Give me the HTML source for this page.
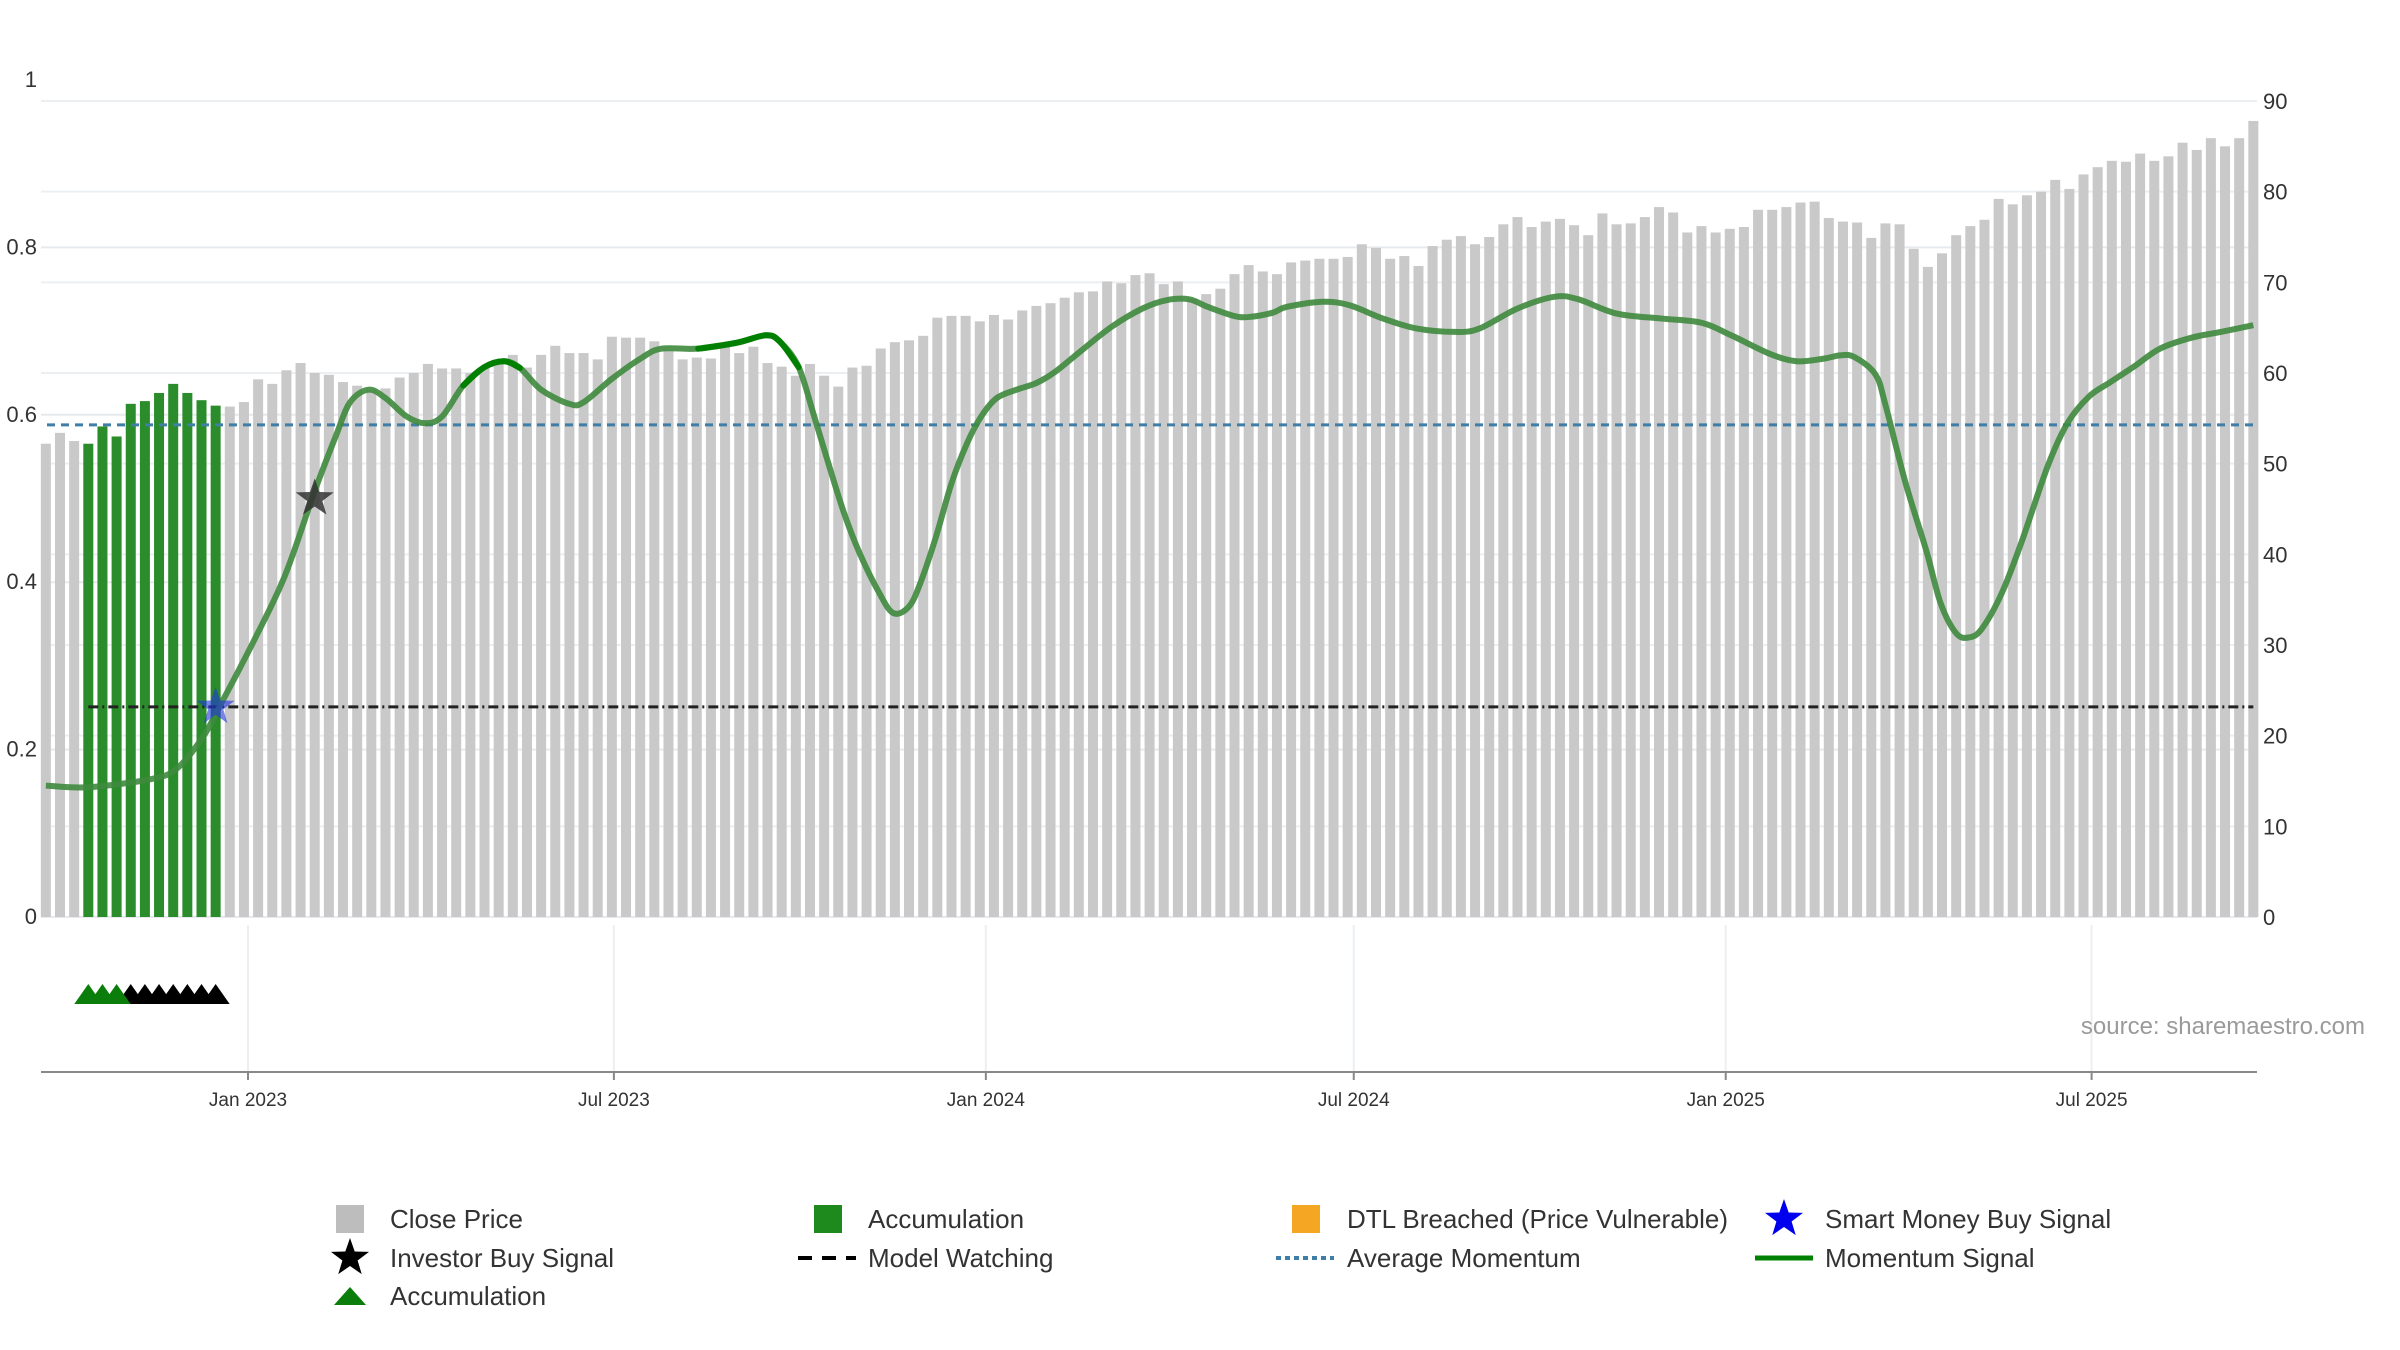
<!DOCTYPE html>
<html><head><meta charset="utf-8"><style>
html,body{margin:0;padding:0;background:#fff;}
svg{display:block;font-family:"Liberation Sans",sans-serif;}
</style></head><body>
<svg id="chart" width="2400" height="1350" viewBox="0 0 2400 1350" xmlns="http://www.w3.org/2000/svg">
<g id="grid"></g>
<g id="bars"></g>
<g id="lines"></g>
<g id="marks"></g>
<g id="axes"></g>
<text x="2365" y="1034" text-anchor="end" font-size="24" fill="#9a9a9a">source: sharemaestro.com</text>
<g id="legend" font-size="26" fill="#333"></g>
</svg>
<script>
// ---- data ----
const startDate = "2022-09-23";
const prices = [52.2,53.4,52.5,52.2,54.1,53.0,56.6,56.9,57.8,58.8,57.8,57.0,56.4,56.3,56.8,59.3,58.8,60.3,61.1,60.0,
59.8,59.0,58.6,58.1,58.3,59.5,60.0,61.0,60.5,60.5,60.0,60.6,61.5,62.0,60.6,62.0,63.0,62.2,62.2,61.5,
64.0,63.9,63.9,63.5,62.5,61.5,61.7,61.6,62.9,62.2,62.9,61.1,60.7,59.7,61.0,59.7,58.5,60.6,60.8,62.7,
63.4,63.6,64.1,66.1,66.3,66.3,65.7,66.4,65.9,66.9,67.4,67.7,68.3,68.9,69.0,70.1,69.9,70.8,71.0,69.8,
70.1,68.2,68.7,69.3,70.9,71.9,71.2,70.9,72.2,72.4,72.6,72.6,72.8,74.2,73.8,72.6,72.9,71.8,74.0,74.7,
75.1,74.2,75.0,76.4,77.2,76.1,76.7,77.0,76.3,75.2,77.6,76.4,76.5,77.2,78.3,77.7,75.5,76.2,75.5,75.9,
76.1,78.0,78.0,78.3,78.8,78.9,77.1,76.7,76.6,74.9,76.5,76.4,73.7,71.7,73.2,75.2,76.2,76.9,79.2,78.6,
79.6,80.0,81.3,80.3,81.9,82.7,83.4,83.3,84.2,83.4,83.9,85.4,84.6,85.9,85.0,85.9,87.8];
const accumulationWeeks = [3,4,5,6,7,8,9,10,11,12];
const momWeeks = [0,3,7.5,9.3,11.1,12.2,14.7,16.9,19,20.5,21.5,22.8,24,25.5,26.8,28,29.5,31,32.4,33.5,35,37,38,40,42.1,43.5,46.1,48.8,50.9,51.9,53.2,54.3,55.3,56.4,57.5,58.9,59.9,61,61.8,62.9,64,65.1,66.1,67.2,68.6,70,71.3,73.2,75.3,77.5,79.2,80.8,82.1,84,85.1,86.7,87.7,90.2,92.1,94.5,96.9,99.6,101.3,104,106.6,108.3,111,114.2,117,119.1,121.8,123.7,125.6,126.8,127.8,129.3,130,131.4,132.9,133.9,135,135.9,136.8,138.2,139.6,141.5,142.9,144.4,145.8,147.6,149.4,151.6,153.7,156];
const momValues = [0.157,0.155,0.165,0.178,0.215,0.249,0.33,0.408,0.509,0.575,0.615,0.630,0.620,0.598,0.590,0.598,0.635,0.657,0.664,0.656,0.630,0.613,0.615,0.643,0.668,0.679,0.679,0.686,0.695,0.687,0.657,0.598,0.542,0.483,0.435,0.387,0.363,0.371,0.399,0.454,0.518,0.566,0.598,0.620,0.630,0.638,0.651,0.677,0.705,0.727,0.737,0.738,0.729,0.718,0.717,0.722,0.729,0.735,0.731,0.715,0.703,0.699,0.703,0.727,0.741,0.738,0.721,0.715,0.710,0.695,0.673,0.664,0.667,0.671,0.669,0.648,0.612,0.520,0.437,0.375,0.339,0.334,0.344,0.386,0.447,0.540,0.591,0.622,0.638,0.658,0.679,0.692,0.699,0.707];
const highlightRanges = [[29.5,33.5],[46.1,53.2]];
const avgMomentum = 0.588;
const modelWatching = 0.251;
const modelStartWeek = 3;
const investorSignalWeek = 19, investorSignalValue = 0.50;
const smartMoneyWeek = 12, smartMoneyValue = 0.251;
const accTriangleWeeks = [3,4,5];
const watchTriangleWeeks = [6,7,8,9,10,11,12];
const leftTicks = [0,0.2,0.4,0.6,0.8,1];
const leftTickLabels = ["0","0.2","0.4","0.6","0.8","1"];
const rightTicks = [0,10,20,30,40,50,60,70,80,90];
const dateTicks = ["2023-01-01","2023-07-01","2024-01-01","2024-07-01","2025-01-01","2025-07-01"];
const dateTickLabels = ["Jan 2023","Jul 2023","Jan 2024","Jul 2024","Jan 2025","Jul 2025"];

// ---- scales ----
const NS="http://www.w3.org/2000/svg";
const DAY=86400000, ref=Date.parse("2023-01-01");
function xDate(d){return 248+(Date.parse(d)-ref)/DAY*2.0215;}
const x0 = xDate(startDate);
function xWeek(i){return x0+i*7*2.0215;}
function yL(v){return 917-v*837;}
function yR(v){return 917-v*(816/90);}
function el(tag,attrs,parent){const e=document.createElementNS(NS,tag);for(const k in attrs)e.setAttribute(k,attrs[k]);parent.appendChild(e);return e;}
const G=id=>document.getElementById(id);
const PL=41, PR=2257;

// grid
for(const t of rightTicks){const g=el('line',{x1:PL,x2:PR,y1:yR(t),y2:yR(t),stroke:'#eceff2','stroke-width':2},G('grid'));

}
for(const t of leftTicks){if(t===1)continue;const g=el('line',{x1:PL,x2:PR,y1:yL(t),y2:yL(t),stroke:'#e6eaee','stroke-width':2},G('grid'));

}
dateTicks.forEach(d=>{const g=el('line',{x1:xDate(d),x2:xDate(d),y1:925,y2:1072,stroke:'#eceff2','stroke-width':2},G('grid'));

});

// bars
prices.forEach((p,i)=>{const acc=accumulationWeeks.includes(i);
const b=el('rect',{x:xWeek(i)-5,y:yR(p),width:10,height:917-yR(p),fill:acc?'#2a8c2a':'#c9c9c9'},G('bars'));

});

// lines
const L=G('lines');
const avg=el('line',{x1:47,x2:xWeek(prices.length-1),y1:yL(avgMomentum),y2:yL(avgMomentum),stroke:'#3f7ea6','stroke-width':3,'stroke-dasharray':'8,6'},L);


const mw=el('line',{x1:xWeek(modelStartWeek),x2:xWeek(prices.length-1),y1:yL(modelWatching),y2:yL(modelWatching),stroke:'#222','stroke-width':3,'stroke-dasharray':'10,4,2,4'},L);


function smooth(pts){let d=`M${pts[0][0]},${pts[0][1]}`;for(let i=0;i<pts.length-1;i++){const p0=pts[i-1]||pts[i],p1=pts[i],p2=pts[i+1],p3=pts[i+2]||p2;
d+=` C${p1[0]+(p2[0]-p0[0])/6},${p1[1]+(p2[1]-p0[1])/6} ${p2[0]-(p3[0]-p1[0])/6},${p2[1]-(p3[1]-p1[1])/6} ${p2[0]},${p2[1]}`;}return d;}
const pts=momWeeks.map((w,i)=>[xWeek(w),yL(momValues[i])]);
const ml=el('path',{d:smooth(pts),fill:'none',stroke:'#3e8a3e','stroke-width':6,'stroke-opacity':0.9,'stroke-linejoin':'round'},L);


highlightRanges.forEach(r=>{const sub=momWeeks.map((w,i)=>[w,i]).filter(a=>a[0]>=r[0]&&a[0]<=r[1]).map(a=>pts[a[1]]);
if(sub.length>1){const h=el('path',{d:smooth(sub),fill:'none',stroke:'#008000','stroke-width':6,'stroke-linecap':'round'},L);

}});

// markers
function starPath(cx,cy,r){let d='';for(let k=0;k<10;k++){const a=-Math.PI/2+k*Math.PI/5,rr=k%2?r*0.4:r;d+=(k?'L':'M')+(cx+rr*Math.cos(a))+','+(cy+rr*Math.sin(a));}return d+'Z';}
const M=G('marks');
const s1=el('path',{d:starPath(xWeek(investorSignalWeek),yL(investorSignalValue),20),fill:'#333','fill-opacity':0.85},M);


const s2=el('path',{d:starPath(xWeek(smartMoneyWeek),yL(smartMoneyValue),20),fill:'#2233dd','fill-opacity':0.6},M);


function tri(w,color,name){const cx=xWeek(w);const t=el('path',{d:`M${cx-14},1004 L${cx},984 L${cx+14},1004 Z`,fill:color},M);

}
watchTriangleWeeks.forEach(w=>tri(w,'#000','watch-triangle'));
accTriangleWeeks.forEach(w=>tri(w,'#0a7d0a','accumulation-triangle'));

// axes
const A=G('axes');
const ax=el('line',{x1:PL,x2:PR,y1:1072,y2:1072,stroke:'#888','stroke-width':2},A);


leftTicks.forEach((t,i)=>{const tx=el('text',{x:37,y:yL(t)+7,'text-anchor':'end','font-size':22,fill:'#333'},A);tx.textContent=leftTickLabels[i];

});
rightTicks.forEach(t=>{const tx=el('text',{x:2263,y:yR(t)+8,'font-size':22,fill:'#333'},A);tx.textContent=String(t);

});
dateTicks.forEach((d,i)=>{const x=xDate(d);const tk=el('line',{x1:x,x2:x,y1:1072,y2:1080,stroke:'#888','stroke-width':2},A);


const tx=el('text',{x:x,y:1106,'text-anchor':'middle','font-size':19,fill:'#333'},A);tx.textContent=dateTickLabels[i];

});

// legend
const LG=G('legend');
function lt(x,y,s){const t=el('text',{x:x,y:y+9},LG);t.textContent=s;

}
function sq(cx,cy,c,name){const r=el('rect',{x:cx-14,y:cy-14,width:28,height:28,fill:c},LG);

}
sq(350,1219,'#bdbdbd','legend-close-price');lt(390,1219,'Close Price');
sq(828,1219,'#1e8a1e','legend-accumulation');lt(868,1219,'Accumulation');
sq(1306,1219,'#f5a623','legend-dtl-breached');lt(1347,1219,'DTL Breached (Price Vulnerable)');
const ls1=el('path',{d:starPath(1784,1219,20),fill:'#0000ee'},LG);


lt(1825,1219,'Smart Money Buy Signal');
const ls2=el('path',{d:starPath(350,1258,20),fill:'#000'},LG);


lt(390,1258,'Investor Buy Signal');
const l1=el('line',{x1:798,x2:856,y1:1258,y2:1258,stroke:'#000','stroke-width':4,'stroke-dasharray':'14,10'},LG);


lt(868,1258,'Model Watching');
const l2=el('line',{x1:1276,x2:1334,y1:1258,y2:1258,stroke:'#3f7ea6','stroke-width':4,'stroke-dasharray':'5,4'},LG);


lt(1347,1258,'Average Momentum');
const l3=el('line',{x1:1755,x2:1813,y1:1258,y2:1258,stroke:'#008000','stroke-width':5},LG);


lt(1825,1258,'Momentum Signal');
const lt3=el('path',{d:'M334,1305 L350,1287 L366,1305 Z',fill:'#0a7d0a'},LG);


lt(390,1296,'Accumulation');
</script>
</body></html>
